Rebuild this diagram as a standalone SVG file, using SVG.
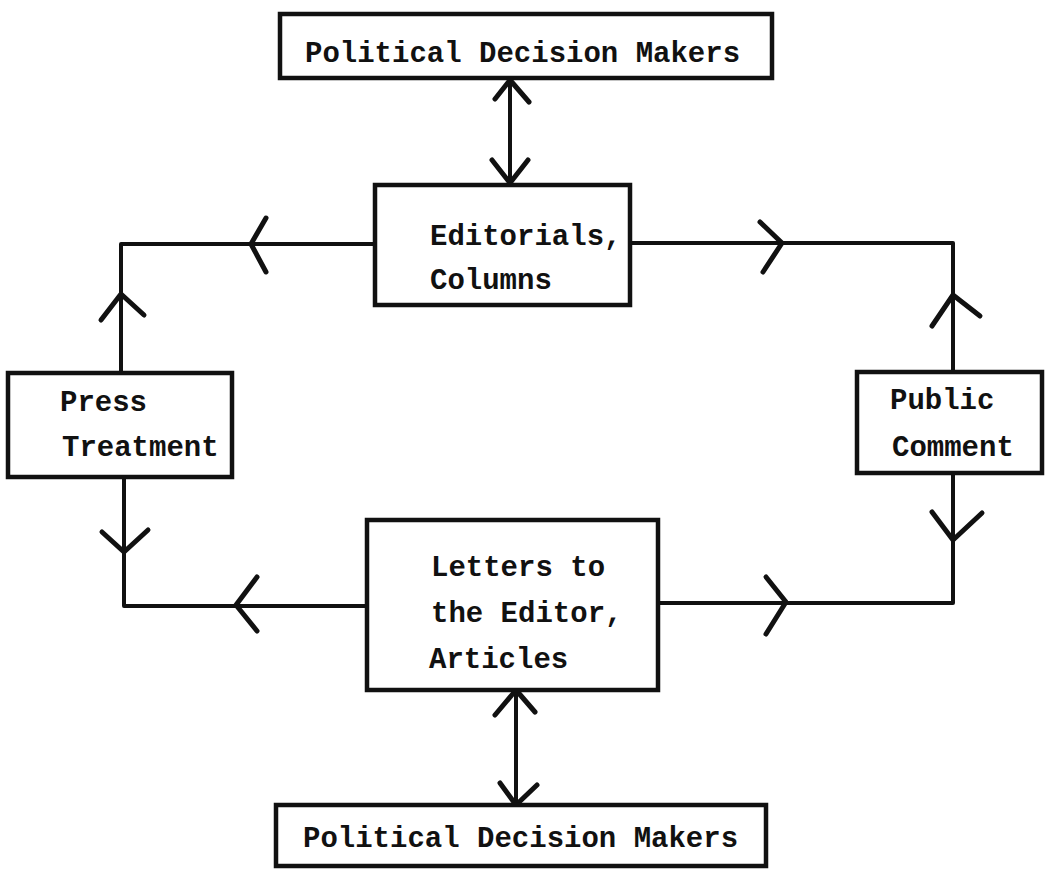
<svg xmlns="http://www.w3.org/2000/svg" width="1045" height="878" viewBox="0 0 1045 878">
<style>
.box{fill:#fff;stroke:#111;stroke-width:4.5}
.ln{fill:none;stroke:#111;stroke-width:4;stroke-linecap:round;stroke-linejoin:round}
.hd{fill:none;stroke:#111;stroke-width:5;stroke-linecap:round;stroke-linejoin:round}
text{font-family:"Liberation Mono","Courier New",monospace;font-size:29px;font-weight:bold;fill:#111}
</style>
<rect width="1045" height="878" fill="#fff"/>
<g id="connectors">
<line class="ln" x1="510" y1="80" x2="510" y2="183"/>
<polyline class="hd" points="495,99 510,80 529,102"/>
<polyline class="hd" points="492,160 510,183 528,160"/>
<polyline class="ln" points="375,244 121,244 121,373"/>
<polyline class="hd" points="266,218 251,244 266,272"/>
<polyline class="hd" points="101,320 121,294 144,315"/>
<polyline class="ln" points="630,243 953,243 953,372"/>
<polyline class="hd" points="760,222 782,243 763,272"/>
<polyline class="hd" points="932,326 953,295 980,316"/>
<polyline class="ln" points="124,477 124,606 367,606"/>
<polyline class="hd" points="102,532 124,552 148,530"/>
<polyline class="hd" points="257,577 236,605 257,631"/>
<polyline class="ln" points="953,473 953,603 658,603"/>
<polyline class="hd" points="932,512 953,540 982,513"/>
<polyline class="hd" points="766,577 786,602 766,634"/>
<line class="ln" x1="516" y1="690" x2="516" y2="805"/>
<polyline class="hd" points="495,715 516,690 535,712"/>
<polyline class="hd" points="500,783 516,805 537,785"/>
</g>
<g id="top-decision-makers">
<rect class="box" x="280" y="14" width="492" height="64"/>
<text x="305" y="62">Political Decision Makers</text>
</g>
<g id="editorials">
<rect class="box" x="375" y="185" width="255" height="120"/>
<text x="430" y="245">Editorials,</text>
<text x="430" y="289">Columns</text>
</g>
<g id="press-treatment">
<rect class="box" x="8" y="373" width="224" height="104"/>
<text x="60" y="411">Press</text>
<text x="62" y="456">Treatment</text>
</g>
<g id="public-comment">
<rect class="box" x="857" y="372" width="185" height="101"/>
<text x="890" y="409">Public</text>
<text x="892" y="456">Comment</text>
</g>
<g id="letters">
<rect class="box" x="367" y="520" width="291" height="170"/>
<text x="431" y="576">Letters to</text>
<text x="431" y="622">the Editor,</text>
<text x="429" y="668">Articles</text>
</g>
<g id="bottom-decision-makers">
<rect class="box" x="276" y="805" width="490" height="61"/>
<text x="303" y="847">Political Decision Makers</text>
</g>
</svg>
